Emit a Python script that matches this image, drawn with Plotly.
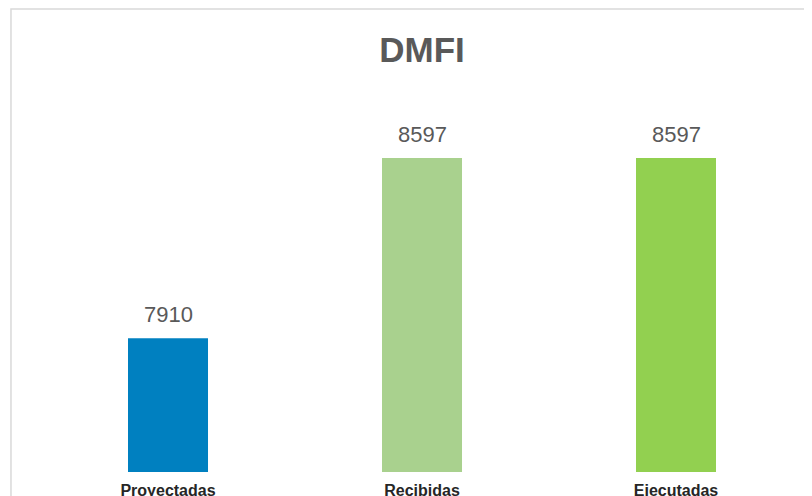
import plotly.graph_objects as go

categorias = ["Proyectadas", "Recibidas", "Ejecutadas"]
valores = [7910, 8597, 8597]
colores = ["#0080C0", "#A9D18E", "#92D050"]

fig = go.Figure(go.Bar(x=categorias, y=valores, marker_color=colores, marker_line_width=0))

# etiquetas de datos encima de cada barra
for c, v in zip(categorias, valores):
    fig.add_annotation(x=c, y=v, text=str(v), showarrow=False, yanchor="bottom", yshift=9,
                       font=dict(family="Liberation Sans, Arial", size=22, color="#595959"))

# borde gris del área del gráfico
fig.add_shape(type="rect", xref="paper", yref="paper", x0=-0.0394, x1=1.2, y0=-0.3, y1=1.3578,
              line=dict(color="#D9D9D9", width=1.5), fillcolor="rgba(0,0,0,0)", layer="below")

fig.update_layout(
    width=812, height=496,
    margin=dict(l=33, r=17, t=123, b=32),
    paper_bgcolor="white", plot_bgcolor="white",
    bargap=0.685,
    showlegend=False,
    title=dict(text="<b>DMFI</b>", x=0.5, xref="paper", y=1 - 29 / 496, yanchor="top",
               font=dict(family="Liberation Sans, Arial", size=35, color="#595959")),
    xaxis=dict(showgrid=False, showline=False, zeroline=False, automargin=False,
               ticks="outside", ticklen=4, tickcolor="rgba(0,0,0,0)",
               tickfont=dict(family="Liberation Sans, Arial", size=16, color="#262626")),
    yaxis=dict(range=[7400, 8700], visible=False, automargin=False),
)
fig.update_xaxes(tickprefix="<b>", ticksuffix="</b>")

fig.write_html("out.html")
